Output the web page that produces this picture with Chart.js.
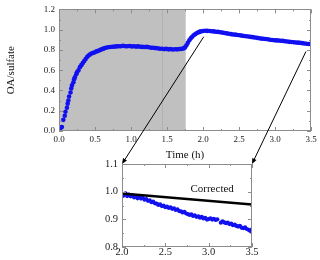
<!DOCTYPE html>
<html>
<head>
<meta charset="utf-8">
<script src="https://cdn.jsdelivr.net/npm/chart.js@4.4.1/dist/chart.umd.min.js"></script>
<style>
  body { margin: 0; background: #fff; }
  #wrap { position: relative; width: 320px; height: 260px; overflow: hidden; }
  #topChart { position: absolute; left: 0; top: 0; }
  #zoomChart { position: absolute; left: 80px; top: 150px; }
  #arrows { position: absolute; left: 0; top: 0; pointer-events: none; }
</style>
</head>
<body>
<div id="wrap">
  <canvas id="topChart" width="320" height="165"></canvas>
  <canvas id="zoomChart" width="185" height="110"></canvas>
  <canvas id="arrows" width="320" height="260"></canvas>
</div>
<script>
// main run, time in hours
const topTime = [
  0.02, 0.04, 0.06, 0.08, 0.09, 0.11, 0.12, 0.13, 0.14, 0.16, 0.17, 0.18, 0.20, 0.21, 0.22, 0.24,
  0.25, 0.27, 0.29, 0.31, 0.33, 0.35, 0.37, 0.39, 0.41, 0.43, 0.45, 0.47, 0.49, 0.51, 0.53, 0.55,
  0.57, 0.59, 0.61, 0.63, 0.65, 0.68, 0.71, 0.74, 0.77, 0.80, 0.83, 0.86, 0.89, 0.92, 0.95, 0.98,
  1.01, 1.04, 1.07, 1.10, 1.13, 1.16, 1.19, 1.22, 1.25, 1.28, 1.31, 1.34, 1.37, 1.40, 1.43, 1.46,
  1.49, 1.52, 1.55, 1.58, 1.61, 1.64, 1.67, 1.70, 1.73, 1.75, 1.77, 1.79, 1.81, 1.83, 1.85, 1.87,
  1.89, 1.91, 1.93, 1.95, 1.97, 2.00, 2.03, 2.06, 2.09, 2.12, 2.15, 2.18, 2.21, 2.24, 2.27, 2.30,
  2.33, 2.36, 2.39, 2.42, 2.45, 2.48, 2.51, 2.54, 2.57, 2.60, 2.63, 2.66, 2.69, 2.72, 2.75, 2.78,
  2.81, 2.84, 2.87, 2.90, 2.93, 2.96, 2.99, 3.02, 3.05, 3.08, 3.11, 3.14, 3.17, 3.20, 3.23, 3.26,
  3.29, 3.32, 3.35, 3.38, 3.41, 3.44, 3.47, 3.50
];
const topRatio = [
  0.03, 0.04, 0.11, 0.15, 0.19, 0.23, 0.27, 0.30, 0.34, 0.38, 0.42, 0.45, 0.48, 0.51, 0.53, 0.56,
  0.58, 0.60, 0.63, 0.65, 0.67, 0.69, 0.71, 0.73, 0.745, 0.755, 0.765, 0.77, 0.775, 0.782, 0.788, 0.792,
  0.80, 0.806, 0.81, 0.816, 0.822, 0.826, 0.829, 0.831, 0.833, 0.835, 0.837, 0.836, 0.841, 0.837, 0.836, 0.839,
  0.835, 0.837, 0.833, 0.835, 0.832, 0.830, 0.829, 0.830, 0.826, 0.822, 0.821, 0.818, 0.816, 0.812, 0.811, 0.808,
  0.810, 0.806, 0.808, 0.805, 0.807, 0.806, 0.808, 0.810, 0.815, 0.825, 0.845, 0.870, 0.895, 0.915, 0.930, 0.945,
  0.955, 0.965, 0.972, 0.978, 0.983, 0.987, 0.990, 0.988, 0.987, 0.984, 0.983, 0.979, 0.978, 0.975, 0.971, 0.967,
  0.963, 0.959, 0.956, 0.952, 0.951, 0.947, 0.945, 0.941, 0.938, 0.935, 0.932, 0.929, 0.926, 0.923, 0.919, 0.915,
  0.912, 0.910, 0.908, 0.905, 0.901, 0.898, 0.896, 0.894, 0.893, 0.891, 0.889, 0.886, 0.883, 0.880, 0.878, 0.876,
  0.874, 0.872, 0.870, 0.867, 0.864, 0.861, 0.858, 0.861
];

// zoomed part, 2.0 - 3.5 h
const zoomTime = [
  2.00, 2.02, 2.04, 2.06, 2.08, 2.10, 2.12, 2.14, 2.16, 2.18, 2.20, 2.22, 2.24, 2.26, 2.28, 2.30,
  2.32, 2.34, 2.36, 2.38, 2.40, 2.42, 2.44, 2.46, 2.48, 2.50, 2.52, 2.54, 2.56, 2.58, 2.60, 2.62,
  2.64, 2.66, 2.68, 2.70, 2.72, 2.74, 2.76, 2.78, 2.80, 2.82, 2.84, 2.86, 2.88, 2.90, 2.92, 2.94,
  2.96, 2.98, 3.00, 3.02, 3.04, 3.06, 3.08, 3.10, 3.14, 3.16, 3.18, 3.20, 3.22, 3.24, 3.26, 3.28,
  3.30, 3.32, 3.34, 3.36, 3.38, 3.40, 3.42, 3.44, 3.46, 3.48, 3.50
];
const zoomRatio = [
  0.992, 0.986, 0.994, 0.984, 0.989, 0.983, 0.987, 0.979, 0.983, 0.976, 0.980, 0.975, 0.978, 0.971, 0.973, 0.967,
  0.969, 0.962, 0.964, 0.958, 0.957, 0.952, 0.954, 0.948, 0.950, 0.944, 0.946, 0.941, 0.943, 0.938, 0.940, 0.934,
  0.936, 0.930, 0.929, 0.925, 0.927, 0.921, 0.919, 0.916, 0.918, 0.912, 0.914, 0.909, 0.911, 0.906, 0.909, 0.903,
  0.905, 0.899, 0.901, 0.904, 0.899, 0.902, 0.898, 0.900, 0.888, 0.893, 0.889, 0.886, 0.888, 0.883, 0.885, 0.879,
  0.881, 0.876, 0.874, 0.876, 0.870, 0.868, 0.871, 0.865, 0.862, 0.858, 0.864
];
const correctedTime = [2.0, 3.5];
const correctedRatio = [0.993, 0.954];

// shaded period and dotted markers
const shadeRange = [0, 1.75];
const markerTimes = [1.43, 1.75];

const topXMajor = [0, 0.5, 1.0, 1.5, 2.0, 2.5, 3.0, 3.5];
const topXMinor = [0.25, 0.75, 1.25, 1.75, 2.25, 2.75, 3.25];
const topYMajor = [0, 0.2, 0.4, 0.6, 0.8, 1.0, 1.2];
const topYMinor = [0.1, 0.3, 0.5, 0.7, 0.9, 1.1];
const zoomXMajor = [2.0, 2.5, 3.0, 3.5];
const zoomXMinor = [2.25, 2.75, 3.25];
const zoomYMajor = [0.8, 0.9, 1.0, 1.1];
const zoomYMinor = [0.85, 0.95, 1.05];

const noteText = "Corrected";
const notePos = [3.04, 1.01];

// arrows: from top chart point to zoom chart corner
const arrowFrom = [[2.01, 0.93], [3.43, 0.785]];
const arrowTo = [[2.0, 1.1], [3.5, 1.1]];

const serif = "'Liberation Serif', 'Times New Roman', serif";
const blue = "#1010f0";
const frameColor = "#8c8c8c";
const noGrid = { display: false, drawTicks: false, tickLength: 0 };

function points(xs, ys) {
  return xs.map((x, i) => ({ x: x, y: ys[i] }));
}

const frameTicks = {
  id: "frameTicks",
  beforeDatasetsDraw(chart, args, opts) {
    if (!opts.shade) return;
    const { ctx, chartArea: a, scales } = chart;
    const x0 = scales.x.getPixelForValue(opts.shade[0]);
    const x1 = scales.x.getPixelForValue(opts.shade[1]);
    ctx.save();
    ctx.fillStyle = "#c0c0c0";
    ctx.fillRect(x0, a.top, x1 - x0, a.bottom - a.top);
    ctx.strokeStyle = "#a4a4a4";
    ctx.setLineDash([1, 1]);
    ctx.lineWidth = 1;
    opts.markers.forEach((t) => {
      const x = Math.round(scales.x.getPixelForValue(t)) + 0.5;
      ctx.beginPath();
      ctx.moveTo(x, a.top);
      ctx.lineTo(x, a.bottom);
      ctx.stroke();
    });
    ctx.restore();
  },
  afterDraw(chart, args, opts) {
    const { ctx, chartArea: a, scales } = chart;
    ctx.save();
    ctx.strokeStyle = frameColor;
    ctx.lineWidth = 1;
    ctx.strokeRect(Math.round(a.left) + 0.5, Math.round(a.top) + 0.5,
      Math.round(a.right - a.left) - 1, Math.round(a.bottom - a.top) - 1);
    ctx.beginPath();
    const xTick = (v, len) => {
      const x = Math.round(scales.x.getPixelForValue(v)) + 0.5;
      ctx.moveTo(x, a.bottom); ctx.lineTo(x, a.bottom - len);
      ctx.moveTo(x, a.top); ctx.lineTo(x, a.top + len);
    };
    const yTick = (v, len) => {
      const y = Math.round(scales.y.getPixelForValue(v)) + 0.5;
      ctx.moveTo(a.left, y); ctx.lineTo(a.left + len, y);
      ctx.moveTo(a.right, y); ctx.lineTo(a.right - len, y);
    };
    opts.xMajor.forEach((v) => xTick(v, 4));
    opts.xMinor.forEach((v) => xTick(v, 2));
    opts.yMajor.forEach((v) => yTick(v, 4));
    opts.yMinor.forEach((v) => yTick(v, 2));
    ctx.stroke();
    if (opts.note) {
      ctx.fillStyle = "#111";
      ctx.font = "11px " + serif;
      ctx.textAlign = "center";
      ctx.textBaseline = "middle";
      ctx.fillText(opts.note, scales.x.getPixelForValue(opts.notePos[0]),
        scales.y.getPixelForValue(opts.notePos[1]));
    }
    ctx.restore();
  },
};

const topChart = new Chart(document.querySelector("#topChart"), {
  type: "scatter",
  data: {
    datasets: [
      {
        data: points(topTime, topRatio),
        backgroundColor: blue,
        borderWidth: 0,
        pointRadius: 2.3,
      },
    ],
  },
  options: {
    responsive: false,
    animation: false,
    devicePixelRatio: 1,
    layout: { padding: { left: 0, right: 9, top: 7, bottom: 0 } },
    plugins: {
      legend: { display: false },
      tooltip: { enabled: false },
      frameTicks: {
        shade: shadeRange,
        markers: markerTimes,
        xMajor: topXMajor,
        xMinor: topXMinor,
        yMajor: topYMajor,
        yMinor: topYMinor,
      },
    },
    scales: {
      x: {
        type: "linear",
        min: 0,
        max: 3.5,
        afterFit: (s) => { s.height = 34; },
        afterBuildTicks: (s) => { s.ticks = topXMajor.map((v) => ({ value: v })); },
        grid: noGrid,
        border: { display: false },
        ticks: {
          padding: 3,
          maxRotation: 0,
          autoSkip: false,
          color: "#222",
          font: { family: serif, size: 9 },
          callback: (v) => v.toFixed(1),
        },
        title: {
          display: true,
          text: "Time (h)",
          color: "#111",
          font: { family: serif, size: 11 },
          padding: { top: 0, bottom: 3.5 },
        },
      },
      y: {
        min: 0,
        max: 1.2,
        afterFit: (s) => { s.width = 59; },
        afterBuildTicks: (s) => { s.ticks = topYMajor.map((v) => ({ value: v })); },
        grid: noGrid,
        border: { display: false },
        ticks: {
          padding: 4,
          autoSkip: false,
          color: "#222",
          font: { family: serif, size: 9 },
          callback: (v) => v.toFixed(1),
        },
        title: {
          display: true,
          text: "OA/sulfate",
          color: "#111",
          font: { family: serif, size: 11 },
          padding: { top: 5, bottom: 0 },
        },
      },
    },
  },
  plugins: [frameTicks],
});

const zoomChart = new Chart(document.querySelector("#zoomChart"), {
  type: "scatter",
  data: {
    datasets: [
      {
        type: "line",
        data: points(correctedTime, correctedRatio),
        borderColor: "#000",
        borderWidth: 2.5,
        pointRadius: 0,
        fill: false,
      },
      {
        data: points(zoomTime, zoomRatio),
        backgroundColor: blue,
        borderWidth: 0,
        pointRadius: 2.1,
      },
    ],
  },
  options: {
    responsive: false,
    animation: false,
    devicePixelRatio: 1,
    layout: { padding: { left: 0, right: 13, top: 14, bottom: 0 } },
    plugins: {
      legend: { display: false },
      tooltip: { enabled: false },
      frameTicks: {
        xMajor: zoomXMajor,
        xMinor: zoomXMinor,
        yMajor: zoomYMajor,
        yMinor: zoomYMinor,
        note: noteText,
        notePos: notePos,
      },
    },
    scales: {
      x: {
        type: "linear",
        min: 2.0,
        max: 3.5,
        afterFit: (s) => { s.height = 13; },
        afterBuildTicks: (s) => { s.ticks = zoomXMajor.map((v) => ({ value: v })); },
        grid: noGrid,
        border: { display: false },
        ticks: {
          padding: -1,
          maxRotation: 0,
          autoSkip: false,
          color: "#222",
          font: { family: serif, size: 10.5 },
          callback: (v) => v.toFixed(1),
        },
      },
      y: {
        min: 0.8,
        max: 1.1,
        afterFit: (s) => { s.width = 42; },
        afterBuildTicks: (s) => { s.ticks = zoomYMajor.map((v) => ({ value: v })); },
        grid: noGrid,
        border: { display: false },
        ticks: {
          padding: 4,
          autoSkip: false,
          color: "#222",
          font: { family: serif, size: 10.5 },
          callback: (v) => v.toFixed(1),
        },
      },
    },
  },
  plugins: [frameTicks],
});

function drawArrows() {
  const ctx = document.querySelector("#arrows").getContext("2d");
  const zoomLeft = 80;
  const zoomTop = 150;
  ctx.strokeStyle = "#000";
  ctx.fillStyle = "#000";
  ctx.lineWidth = 1;
  arrowFrom.forEach((from, i) => {
    const x0 = topChart.scales.x.getPixelForValue(from[0]);
    const y0 = topChart.scales.y.getPixelForValue(from[1]);
    const x1 = zoomLeft + zoomChart.scales.x.getPixelForValue(arrowTo[i][0]);
    const y1 = zoomTop + zoomChart.scales.y.getPixelForValue(arrowTo[i][1]);
    const angle = Math.atan2(y1 - y0, x1 - x0);
    const head = 6;
    ctx.beginPath();
    ctx.moveTo(x0, y0);
    ctx.lineTo(x1 - Math.cos(angle) * head * 0.8, y1 - Math.sin(angle) * head * 0.8);
    ctx.stroke();
    ctx.beginPath();
    ctx.moveTo(x1, y1);
    ctx.lineTo(x1 - head * Math.cos(angle - 0.4), y1 - head * Math.sin(angle - 0.4));
    ctx.lineTo(x1 - head * Math.cos(angle + 0.4), y1 - head * Math.sin(angle + 0.4));
    ctx.closePath();
    ctx.fill();
  });
}

drawArrows();
</script>
</body>
</html>
